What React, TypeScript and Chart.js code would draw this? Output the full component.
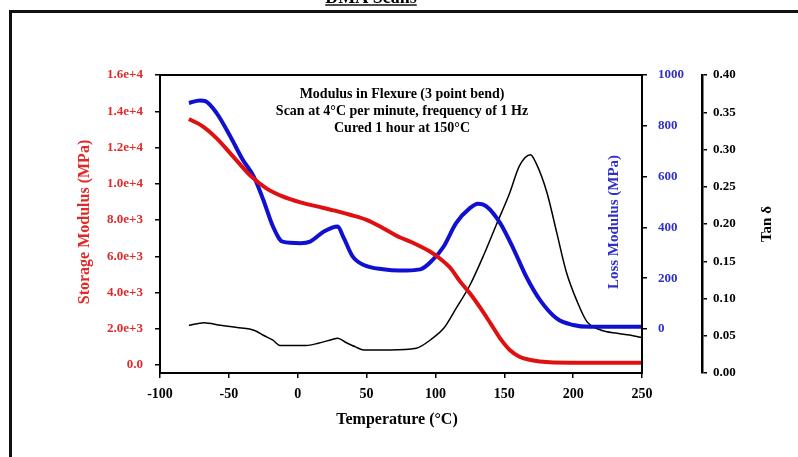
import React, { useEffect, useRef } from "react";
import { Chart, registerables } from "chart.js";

Chart.register(...registerables);

// ---- Data ----
const storageTemps = [-79, -69, -59, -47, -35, -23, -11, 2, 14, 26, 38, 50, 62, 74, 82, 96, 103, 111, 118, 125, 132, 140, 147, 154, 161, 169, 183, 198, 250];
const storageValues = [13570, 13170, 12520, 11510, 10500, 9760, 9300, 8970, 8750, 8530, 8290, 8010, 7550, 7050, 6800, 6260, 5890, 5340, 4600, 3960, 3220, 2300, 1470, 830, 460, 280, 150, 130, 130];

const lossTemps = [-79, -71, -67, -59, -49, -40, -32, -25, -18, -11, 2, 9, 19, 29, 33, 40, 48, 62, 74, 89, 98, 106, 115, 125, 131, 137, 147, 157, 166, 176, 188, 200, 212, 250];
const lossValues = [890, 900, 897, 851, 759, 667, 601, 509, 404, 344, 338, 344, 384, 404, 364, 285, 252, 235, 230, 235, 272, 325, 417, 476, 493, 483, 417, 312, 206, 114, 42, 16, 9, 9];

const tanTemps = [-79, -68, -56, -44, -35, -30, -25, -18, -13, 6, 15, 25, 29, 35, 42, 48, 67, 86, 98, 106, 115, 125, 135, 144, 154, 161, 169, 173, 181, 188, 195, 203, 210, 220, 232, 241, 250];
const tanValues = [0.064, 0.0676, 0.064, 0.061, 0.059, 0.056, 0.0507, 0.044, 0.037, 0.037, 0.04, 0.045, 0.0467, 0.041, 0.035, 0.031, 0.031, 0.0333, 0.0467, 0.06, 0.0867, 0.1178, 0.158, 0.198, 0.242, 0.278, 0.293, 0.282, 0.242, 0.189, 0.136, 0.0956, 0.069, 0.0578, 0.0533, 0.051, 0.0476];

const xTicks = [-100, -50, 0, 50, 100, 150, 200, 250];
const storageTicks = [0, 2000, 4000, 6000, 8000, 10000, 12000, 14000, 16000];
const lossTicks = [0, 200, 400, 600, 800, 1000];
const tanTicks = [0, 0.05, 0.1, 0.15, 0.2, 0.25, 0.3, 0.35, 0.4];

const pageTitle = "DMA Scans";
const noteLines = [
  "Modulus in Flexure (3 point bend)",
  "Scan at 4°C per minute, frequency of 1 Hz",
  "Cured 1 hour at 150°C",
];
const xTitle = "Temperature (°C)";
const storageTitle = "Storage Modulus (MPa)";
const lossTitle = "Loss Modulus (MPa)";
const tanTitle = "Tan δ";

const RED = "#e01010";
const BLUE = "#1010d0";
const RED_TXT = "#e02a2a";
const BLUE_TXT = "#3030c8";
const SERIF = "'Liberation Serif', 'DejaVu Serif', serif";

const toPts = (xs: number[], ys: number[]) => xs.map((x, i) => ({ x, y: ys[i] }));

const decorPlugin = {
  id: "decor",
  beforeDraw(chart: any) {
    const ctx = chart.ctx;
    ctx.save();
    ctx.fillStyle = "#fff";
    ctx.fillRect(0, 0, chart.width, chart.height);
    // frame
    ctx.strokeStyle = "#111";
    ctx.lineWidth = 3;
    ctx.beginPath();
    ctx.moveTo(10.5, chart.height);
    ctx.lineTo(10.5, 11.5);
    ctx.lineTo(chart.width, 11.5);
    ctx.stroke();
    // page title (cut off at top)
    ctx.fillStyle = "#000";
    ctx.font = `bold 18px ${SERIF}`;
    ctx.textAlign = "center";
    ctx.textBaseline = "alphabetic";
    ctx.fillText(pageTitle, 371, 3);
    const w = ctx.measureText(pageTitle).width;
    ctx.lineWidth = 1.5;
    ctx.beginPath();
    ctx.moveTo(371 - w / 2, 5);
    ctx.lineTo(371 + w / 2, 5);
    ctx.stroke();
    ctx.restore();
  },
  afterDraw(chart: any) {
    const ctx = chart.ctx;
    const a = chart.chartArea;
    ctx.save();
    // plot box
    ctx.strokeStyle = "#000";
    ctx.lineWidth = 2;
    ctx.strokeRect(a.left, a.top, a.right - a.left, a.bottom - a.top);
    // note
    ctx.fillStyle = "#000";
    ctx.font = `bold 14px ${SERIF}`;
    ctx.textAlign = "center";
    ctx.textBaseline = "middle";
    noteLines.forEach((t, i) => ctx.fillText(t, 402, 94 + i * 17));
    // x title
    ctx.font = `bold 16px ${SERIF}`;
    ctx.fillText(xTitle, 397, 420);
    // storage title
    const rot = (text: string, x: number, y: number, color: string, size: number) => {
      ctx.save();
      ctx.translate(x, y);
      ctx.rotate(-Math.PI / 2);
      ctx.fillStyle = color;
      ctx.font = `bold ${size}px ${SERIF}`;
      ctx.textAlign = "center";
      ctx.textBaseline = "middle";
      ctx.fillText(text, 0, 0);
      ctx.restore();
    };
    rot(storageTitle, 85, 222, RED_TXT, 16);
    rot(lossTitle, 614, 222, BLUE_TXT, 15);
    rot(tanTitle, 767, 224, "#000", 15);
    ctx.restore();
  },
};

const tickFont = { family: SERIF, size: 13, weight: "bold" as const };

export default function App() {
  const ref = useRef<HTMLCanvasElement>(null);
  useEffect(() => {
    if (!ref.current) return;
    const chart = new Chart(ref.current, {
      type: "scatter",
      data: {
        datasets: [
          {
            label: "Storage",
            data: toPts(storageTemps, storageValues),
            yAxisID: "yS",
            showLine: true,
            borderColor: RED,
            borderWidth: 4,
            pointRadius: 0,
            cubicInterpolationMode: "monotone",
          },
          {
            label: "Loss",
            data: toPts(lossTemps, lossValues),
            yAxisID: "yL",
            showLine: true,
            borderColor: BLUE,
            borderWidth: 4,
            pointRadius: 0,
            cubicInterpolationMode: "monotone",
          },
          {
            label: "Tan",
            data: toPts(tanTemps, tanValues),
            yAxisID: "yT",
            showLine: true,
            borderColor: "#000",
            borderWidth: 1.5,
            pointRadius: 0,
            cubicInterpolationMode: "monotone",
          },
        ],
      },
      options: {
        responsive: false,
        animation: false,
        layout: { padding: { top: 75, left: 0, right: 0, bottom: 0 } },
        plugins: { legend: { display: false }, tooltip: { enabled: false } },
        scales: {
          x: {
            type: "linear",
            position: "bottom",
            min: -100,
            max: 250,
            afterBuildTicks: (s: any) => {
              s.ticks = xTicks.map((v) => ({ value: v }));
            },
            afterFit: (s: any) => {
              s.height = 84;
            },
            grid: { display: true, drawOnChartArea: false, drawTicks: true, tickLength: 5, color: "#000", lineWidth: 1.5 },
            border: { display: true, color: "#000", width: 2 },
            ticks: { color: "#000", font: { ...tickFont, size: 14 }, padding: 8, maxRotation: 0 },
          },
          yS: {
            type: "linear",
            position: "left",
            min: -440,
            max: 16000,
            afterBuildTicks: (s: any) => {
              s.ticks = storageTicks.map((v) => ({ value: v }));
            },
            afterFit: (s: any) => {
              s.width = 160;
            },
            grid: { display: true, drawOnChartArea: false, drawTicks: true, tickLength: 5, color: "#000", lineWidth: 1.5 },
            border: { display: true, color: "#000", width: 2 },
            ticks: {
              color: RED_TXT,
              font: tickFont,
              padding: 12,
              callback: (v: any) => (v === 0 ? "0.0" : Number(v).toExponential(1)),
            },
          },
          yL: {
            type: "linear",
            position: "right",
            weight: 0,
            min: -173,
            max: 1000,
            afterBuildTicks: (s: any) => {
              s.ticks = lossTicks.map((v) => ({ value: v }));
            },
            afterFit: (s: any) => {
              s.width = 60;
            },
            grid: { display: true, drawOnChartArea: false, drawTicks: true, tickLength: 5, color: "#000", lineWidth: 1.5 },
            border: { display: true, color: "#000", width: 2 },
            ticks: { color: BLUE_TXT, font: tickFont, padding: 11, callback: (v: any) => String(v) },
          },
          yT: {
            type: "linear",
            position: "right",
            weight: 1,
            min: 0,
            max: 0.4,
            afterBuildTicks: (s: any) => {
              s.ticks = tanTicks.map((v) => ({ value: v }));
            },
            afterFit: (s: any) => {
              s.width = 96;
            },
            grid: { display: true, drawOnChartArea: false, drawTicks: true, tickLength: 5, color: "#000", lineWidth: 1.5 },
            border: { display: true, color: "#000", width: 2.5 },
            ticks: { color: "#000", font: tickFont, padding: 6, callback: (v: any) => Number(v).toFixed(2) },
          },
        },
      },
      plugins: [decorPlugin],
    } as any);
    return () => chart.destroy();
  }, []);
  return (
    <div style={{ position: "fixed", left: 0, top: 0, width: 798, height: 457 }}>
      <canvas ref={ref} width={798} height={457} style={{ width: 798, height: 457, display: "block" }} />
    </div>
  );
}
